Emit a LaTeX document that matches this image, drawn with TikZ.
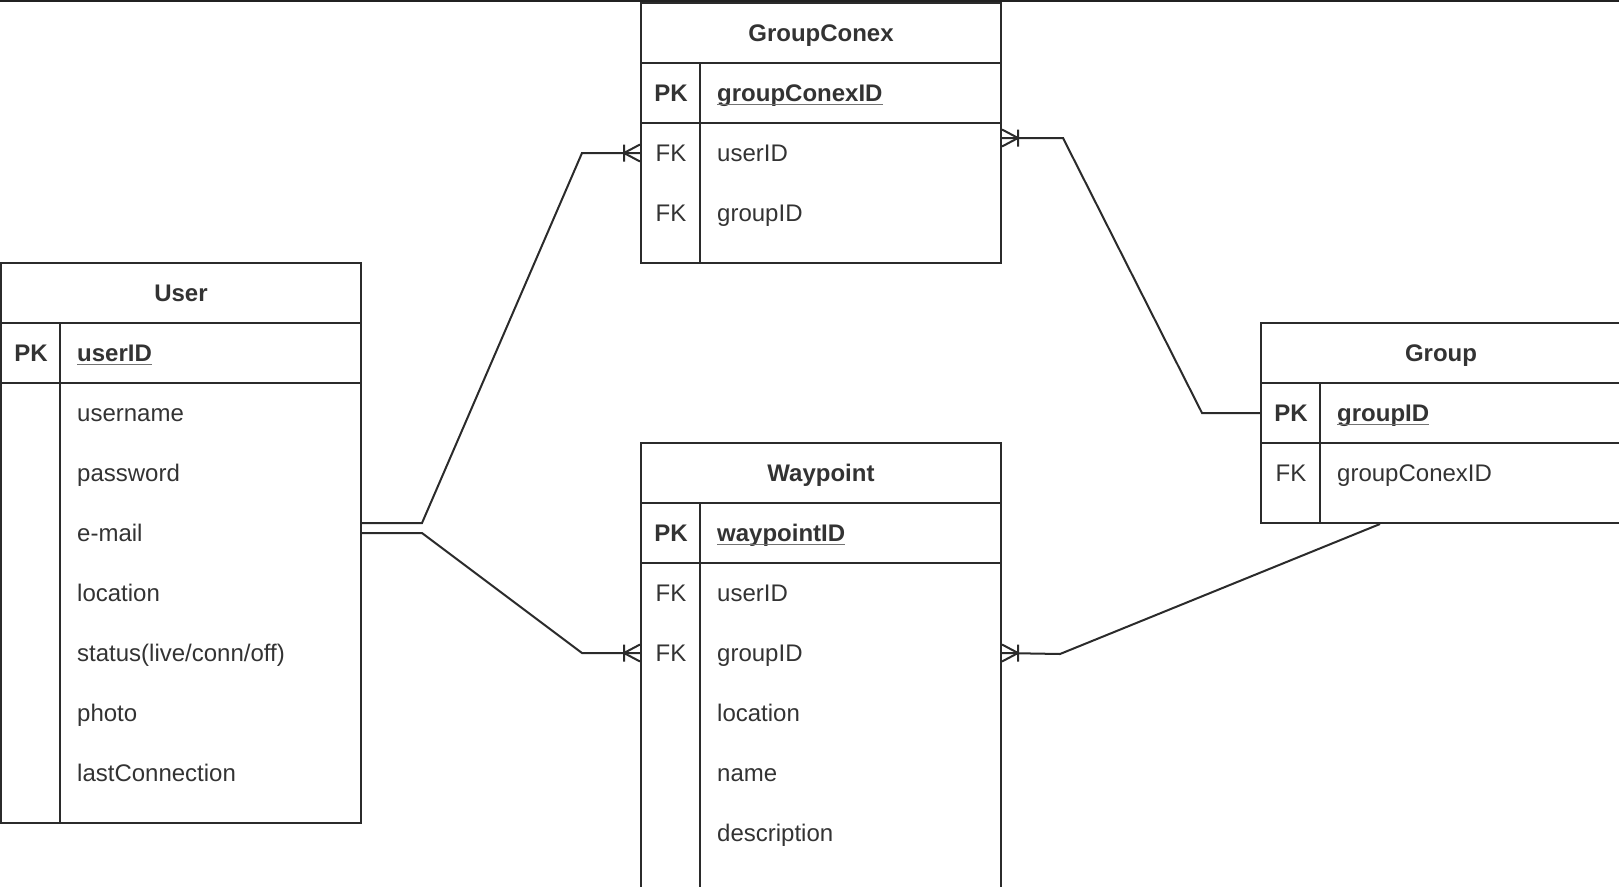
\documentclass[tikz,border=0pt]{standalone}
\usepackage{fontspec}
\setmainfont{Liberation Sans}

\definecolor{erline}{HTML}{2B2B2B}
\definecolor{ertext}{HTML}{333333}
\newcommand{\erfont}{\fontsize{24}{28}\selectfont}

\tikzset{
  tbl/.style={draw=erline, line width=2pt, minimum width=360pt, inner sep=0pt},
  hdr/.style={tbl, minimum height=60pt, text height=17pt, text depth=0pt,
    font=\erfont\bfseries, text=ertext},
  pkrow/.style={tbl, minimum height=60pt},
  fld/.style={anchor=west, inner sep=0pt, text height=17pt, text depth=0pt,
    font=\erfont, text=ertext},
  key/.style={fld, anchor=center},
  conn/.style={draw=erline, line width=2pt},
  uline/.style={draw=black!55, line width=1.5pt},
  many/.pic={\draw[conn] (-16,0) -- (0,-8.5) (-16,0) -- (0,8.5)
    (-16,-8.5) -- (-16,8.5);}
}

\begin{document}
\begin{tikzpicture}[x=1pt, y=-1pt]
  \path[use as bounding box, clip] (0,0) rectangle (1619,886);
  \fill[black!87] (0,0) rectangle (1619,2);

  % User
  \node[hdr] (user) at (181,293) {User};
  \node[pkrow] (userPK) at (181,353) {};
  \node[tbl, minimum height=440pt] (userBody) at (181,603) {};
  \draw[conn] ([xshift=60pt]userPK.north west) -- ([xshift=60pt]userBody.south west);
  \node[key, font=\erfont\bfseries] (userK) at (31,353) {PK};
  \node[fld, font=\erfont\bfseries] (userID) at (77,353) {userID};
  \draw[uline] ([yshift=-3pt]userID.south west) -- ([yshift=-3pt]userID.south east);
  \foreach \f [count=\i] in {username, password, e-mail, location,
    {status(live/conn/off)}, photo, lastConnection}
    \node[fld] (user\i) at (77,{353+60*\i}) {\f};

  % GroupConex
  \node[hdr] (gc) at (821,33) {GroupConex};
  \node[pkrow] (gcPK) at (821,93) {};
  \node[tbl, minimum height=140pt] (gcBody) at (821,193) {};
  \draw[conn] ([xshift=60pt]gcPK.north west) -- ([xshift=60pt]gcBody.south west);
  \node[key, font=\erfont\bfseries] (gcK) at (671,93) {PK};
  \node[fld, font=\erfont\bfseries] (gcID) at (717,93) {groupConexID};
  \draw[uline] ([yshift=-3pt]gcID.south west) -- ([yshift=-3pt]gcID.south east);
  \foreach \f [count=\i] in {userID, groupID} {
    \node[key] (gcK\i) at (671,{93+60*\i}) {FK};
    \node[fld] (gc\i) at (717,{93+60*\i}) {\f};
  }

  % Waypoint
  \node[hdr] (wp) at (821,473) {Waypoint};
  \node[pkrow] (wpPK) at (821,533) {};
  \node[tbl, minimum height=380pt] (wpBody) at (821,753) {};
  \draw[conn] ([xshift=60pt]wpPK.north west) -- ([xshift=60pt]wpBody.south west);
  \node[key, font=\erfont\bfseries] (wpK) at (671,533) {PK};
  \node[fld, font=\erfont\bfseries] (wpID) at (717,533) {waypointID};
  \draw[uline] ([yshift=-3pt]wpID.south west) -- ([yshift=-3pt]wpID.south east);
  \foreach \f [count=\i] in {userID, groupID, location, name, description}
    \node[fld] (wp\i) at (717,{533+60*\i}) {\f};
  \node[key] (wpK1) at (671,593) {FK};
  \node[key] (wpK2) at (671,653) {FK};

  % Group
  \node[hdr] (gr) at (1441,353) {Group};
  \node[pkrow] (grPK) at (1441,413) {};
  \node[tbl, minimum height=80pt] (grBody) at (1441,483) {};
  \draw[conn] ([xshift=60pt]grPK.north west) -- ([xshift=60pt]grBody.south west);
  \node[key, font=\erfont\bfseries] (grK) at (1291,413) {PK};
  \node[fld, font=\erfont\bfseries] (grID) at (1337,413) {groupID};
  \draw[uline] ([yshift=-3pt]grID.south west) -- ([yshift=-3pt]grID.south east);
  \node[key] (grK1) at (1291,473) {FK};
  \node[fld] (gr1) at (1337,473) {groupConexID};

  % relations
  \draw[conn] ([yshift=10pt]userBody.east |- user3) -- ++(60,0) -- ++(160,-370)
    -- (gcBody.west |- gc1);
  \draw[conn] (userBody.east |- user3) -- ++(60,0) -- ++(160,120)
    -- (wpBody.west |- wp2);
  \draw[conn] ([yshift=15pt]gcBody.east |- gc1) -- ++(61,0) -- ++(139,275)
    -- (grPK.west);
  \draw[conn] ([xshift=120pt]grBody.south west) -- ++(-320,130)
    -- (wpBody.east |- wp2);
  \pic at (gcBody.west |- gc1) {many};
  \pic at (wpBody.west |- wp2) {many};
  \pic[rotate=180] at ([yshift=15pt]gcBody.east |- gc1) {many};
  \pic[rotate=180] at (wpBody.east |- wp2) {many};
\end{tikzpicture}
\end{document}
